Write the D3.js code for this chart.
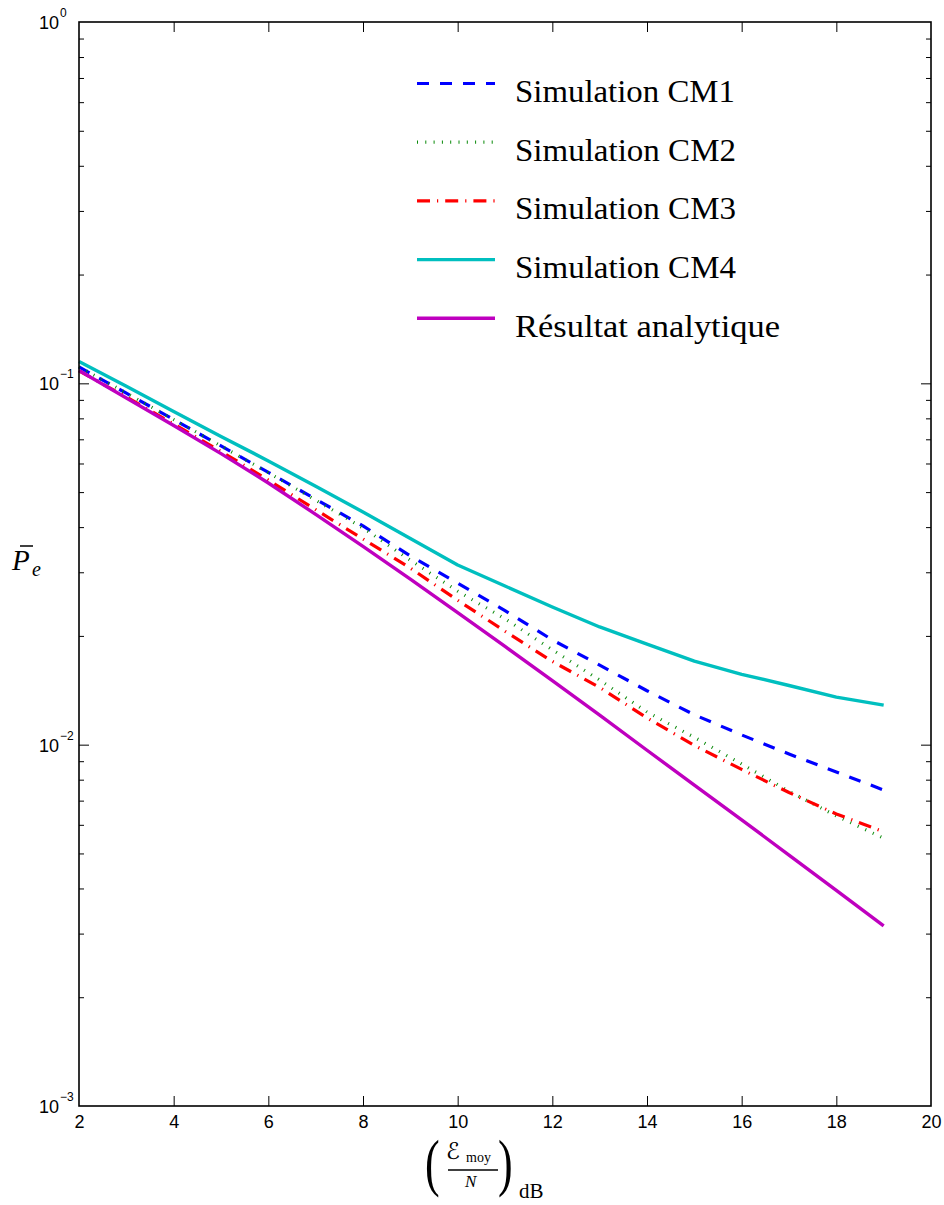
<!DOCTYPE html>
<html>
<head>
<meta charset="utf-8">
<script src="https://cdn.jsdelivr.net/npm/d3@7/dist/d3.min.js"></script>
<style>
  html, body { margin: 0; padding: 0; background: #ffffff; }
  svg { display: block; }
</style>
</head>
<body>
<script>
// ---------------- data ----------------
const snrDb = [2, 3, 4, 5, 6, 7, 8, 9, 10, 11, 12, 13, 14, 15, 16, 17, 18, 19];

const simCM1 = [0.1110, 0.0939, 0.0794, 0.0671, 0.0567, 0.0478, 0.0403, 0.0333, 0.0280,
                0.0235, 0.0195, 0.0166, 0.0141, 0.0121, 0.01064, 0.00942, 0.00840, 0.00749];
const simCM2 = [0.1110, 0.0940, 0.0794, 0.0671, 0.0566, 0.0475, 0.0398, 0.0324, 0.0266,
                0.0223, 0.0183, 0.0151, 0.01231, 0.01048, 0.00884, 0.00743, 0.00635, 0.00551];
const simCM3 = [0.1082, 0.0917, 0.0772, 0.0648, 0.0540, 0.0447, 0.0371, 0.0308, 0.0251,
                0.0206, 0.0170, 0.0144, 0.01186, 0.00995, 0.00854, 0.00737, 0.00643, 0.00574];
const simCM4 = [0.1149, 0.0981, 0.0836, 0.0713, 0.0610, 0.0519, 0.04405, 0.0372, 0.03143,
                0.02748, 0.02404, 0.02117, 0.01899, 0.01704, 0.01566, 0.01458, 0.01354, 0.01287];
const analytic = [0.1085, 0.0911, 0.0764, 0.0639, 0.0530, 0.0434, 0.0354, 0.0287, 0.0232,
                  0.0187, 0.01504, 0.01208, 0.00965, 0.00773, 0.00619, 0.00495, 0.00395, 0.00315];

const seriesNames = ["Simulation CM1", "Simulation CM2", "Simulation CM3", "Simulation CM4", "Résultat analytique"];

const xTickValues = [2, 4, 6, 8, 10, 12, 14, 16, 18, 20];
const xTickLabels = ["2", "4", "6", "8", "10", "12", "14", "16", "18", "20"];
const yDecades = [0.001, 0.01, 0.1, 1];
const yTickBase = ["10", "10", "10", "10"];
const yTickExp = ["\u22123", "\u22122", "\u22121", "0"];

// ---------------- layout / styles ----------------
const W = 944, H = 1205;
const plot = { left: 79, right: 931, top: 22, bottom: 1106 };

const styles = [
  { color: "#0000ff", width: 3.2, dash: "12,11" },
  { color: "#0a8a0a", width: 3.2, dash: "1,7.3" },
  { color: "#ff0000", width: 3.2, dash: "13,7,1.2,7" },
  { color: "#00bfbf", width: 3.4, dash: null },
  { color: "#bf00bf", width: 3.4, dash: null }
];
const seriesValues = [simCM1, simCM2, simCM3, simCM4, analytic];

const svg = d3.select("body").append("svg")
  .attr("width", W).attr("height", H)
  .attr("viewBox", `0 0 ${W} ${H}`);

svg.append("rect").attr("width", W).attr("height", H).attr("fill", "#fff");

const x = d3.scaleLinear().domain([2, 20]).range([plot.left, plot.right]);
const y = d3.scaleLog().domain([0.001, 1]).range([plot.bottom, plot.top]);

// minor ticks for log axis (2..9 within each decade)
const yMinor = [];
yDecades.slice(0, -1).forEach(d => { for (let k = 2; k <= 9; k++) yMinor.push(d * k); });

const tickFont = "'Liberation Sans', Arial, Helvetica, sans-serif";
const serif = "'Liberation Serif', 'Times New Roman', serif";

// ---------------- lines ----------------
const lineGen = d3.line()
  .x(d => x(d[0]))
  .y(d => y(d[1]));

const linesG = svg.append("g");
seriesValues.forEach((vals, i) => {
  const pts = snrDb.map((s, j) => [s, vals[j]]);
  const p = linesG.append("path")
    .datum(pts)
    .attr("d", lineGen)
    .attr("fill", "none")
    .attr("stroke", styles[i].color)
    .attr("stroke-width", styles[i].width)
    .attr("stroke-linejoin", "round")
    .attr("stroke-linecap", "butt");
  if (styles[i].dash) p.attr("stroke-dasharray", styles[i].dash);
});

// ---------------- axes ----------------
function styleAxis(g) {
  g.select(".domain").remove();
  g.selectAll(".tick line").attr("stroke", "#000").attr("stroke-width", 1);
}

// bottom
const gBottom = svg.append("g").attr("transform", `translate(0,${plot.bottom})`)
  .call(d3.axisBottom(x).tickValues(xTickValues)
    .tickFormat((d, i) => xTickLabels[i]).tickSizeInner(-10).tickSizeOuter(0).tickPadding(9));
styleAxis(gBottom);
gBottom.selectAll(".tick text").attr("font-family", tickFont).attr("font-size", 18).attr("fill", "#000");
gBottom.selectAll(".tick").filter(d => d === 2 || d === 20).select("line").remove();

// top
const gTop = svg.append("g").attr("transform", `translate(0,${plot.top})`)
  .call(d3.axisTop(x).tickValues(xTickValues).tickFormat("").tickSizeInner(-10).tickSizeOuter(0));
styleAxis(gTop);
gTop.selectAll(".tick").filter(d => d === 2 || d === 20).select("line").remove();

// left major + minor
const gLeft = svg.append("g").attr("transform", `translate(${plot.left},0)`)
  .call(d3.axisLeft(y).tickValues(yDecades).tickFormat("").tickSizeInner(-10).tickSizeOuter(0));
styleAxis(gLeft);
const gLeftMinor = svg.append("g").attr("transform", `translate(${plot.left},0)`)
  .call(d3.axisLeft(y).tickValues(yMinor).tickFormat("").tickSizeInner(-5).tickSizeOuter(0));
styleAxis(gLeftMinor);

// right major + minor
const gRight = svg.append("g").attr("transform", `translate(${plot.right},0)`)
  .call(d3.axisRight(y).tickValues(yDecades).tickFormat("").tickSizeInner(-10).tickSizeOuter(0));
styleAxis(gRight);
const gRightMinor = svg.append("g").attr("transform", `translate(${plot.right},0)`)
  .call(d3.axisRight(y).tickValues(yMinor).tickFormat("").tickSizeInner(-5).tickSizeOuter(0));
styleAxis(gRightMinor);
[gLeft, gRight].forEach(g => g.selectAll(".tick").filter(d => d === 0.001 || d === 1).select("line").remove());

// y tick labels with superscripts
const yLab = svg.append("g");
yDecades.forEach((d, i) => {
  const yy = y(d);
  yLab.append("text")
    .attr("x", 59).attr("y", yy + 7)
    .attr("text-anchor", "end")
    .attr("font-family", tickFont).attr("font-size", 18).attr("fill", "#000")
    .text(yTickBase[i]);
  yLab.append("text")
    .attr("x", 60).attr("y", yy - 5)
    .attr("text-anchor", "start")
    .attr("font-family", tickFont).attr("font-size", 12).attr("fill", "#000")
    .text(yTickExp[i]);
});

// frame
svg.append("rect")
  .attr("x", plot.left).attr("y", plot.top)
  .attr("width", plot.right - plot.left).attr("height", plot.bottom - plot.top)
  .attr("fill", "none").attr("stroke", "#000").attr("stroke-width", 1.6);

// ---------------- legend ----------------
const legend = { x1: 417, x2: 495, y0: 83.5, dy: 58.7, textX: 515 };
const legendWidths = [220, 221, 221, 221, 265];
const lg = svg.append("g");
seriesNames.forEach((name, i) => {
  const ly = legend.y0 + i * legend.dy;
  const ln = lg.append("line")
    .attr("x1", legend.x1).attr("x2", legend.x2)
    .attr("y1", ly).attr("y2", ly)
    .attr("stroke", styles[i].color)
    .attr("stroke-width", styles[i].width);
  if (styles[i].dash) ln.attr("stroke-dasharray", styles[i].dash);
  lg.append("text")
    .attr("x", legend.textX).attr("y", ly + 18.3)
    .attr("font-family", serif).attr("font-size", 31).attr("fill", "#000")
    .attr("textLength", legendWidths[i]).attr("lengthAdjust", "spacingAndGlyphs")
    .text(name);
});

// ---------------- y axis label: P̄_e ----------------
const yl = svg.append("g");
yl.append("text").attr("x", 12).attr("y", 570)
  .attr("font-family", serif).attr("font-style", "italic").attr("font-size", 29).attr("fill", "#000")
  .text("P");
yl.append("line").attr("x1", 20).attr("x2", 33).attr("y1", 546).attr("y2", 546)
  .attr("stroke", "#000").attr("stroke-width", 1.5);
yl.append("text").attr("x", 32).attr("y", 576)
  .attr("font-family", serif).attr("font-style", "italic").attr("font-size", 20).attr("fill", "#000")
  .text("e");

// ---------------- x axis label: (ℰ_moy / N)_dB ----------------
const xl = svg.append("g");
xl.append("text").attr("transform", "translate(425,1184) scale(1,1.45)")
  .attr("font-family", serif).attr("font-size", 44).attr("fill", "#000").text("(");
xl.append("text").attr("transform", "translate(498,1184) scale(1,1.45)")
  .attr("font-family", serif).attr("font-size", 44).attr("fill", "#000").text(")");
xl.append("text").attr("x", 446).attr("y", 1159)
  .attr("font-family", "'DejaVu Sans', 'Noto Sans', sans-serif").attr("font-size", 23).attr("fill", "#000")
  .text("\u2130");
xl.append("text").attr("x", 466).attr("y", 1162)
  .attr("font-family", serif).attr("font-size", 14).attr("fill", "#000")
  .text("moy");
xl.append("line").attr("x1", 448).attr("x2", 498).attr("y1", 1170).attr("y2", 1170)
  .attr("stroke", "#000").attr("stroke-width", 1.6);
xl.append("text").attr("x", 465).attr("y", 1187)
  .attr("font-family", serif).attr("font-style", "italic").attr("font-size", 17).attr("fill", "#000")
  .text("N");
xl.append("text").attr("x", 519).attr("y", 1198)
  .attr("font-family", serif).attr("font-size", 21).attr("fill", "#000")
  .text("dB");
</script>
</body>
</html>
